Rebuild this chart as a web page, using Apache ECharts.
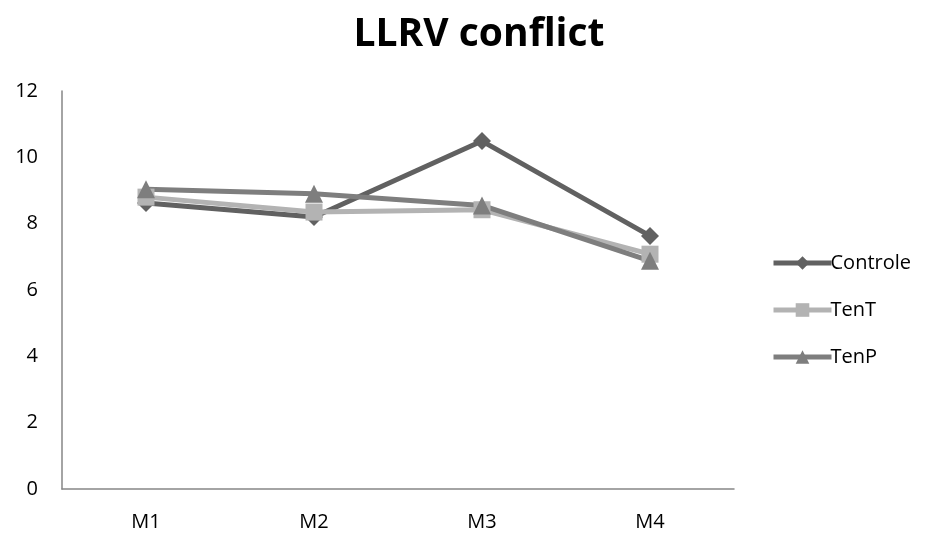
<!DOCTYPE html>
<html><head><meta charset="utf-8">
<script src="https://cdn.jsdelivr.net/npm/echarts@6/dist/echarts.min.js"></script>
<style>html,body{margin:0;padding:0;background:#fff}#c{width:930px;height:538px}</style>
</head><body><div id="c"></div>
<script>
const categories = ['M1','M2','M3','M4'];
const controle = [8.62, 8.2, 10.49, 7.63];
const tenT = [8.8, 8.35, 8.42, 7.08];
const tenP = [9.04, 8.9, 8.55, 6.88];
const yTicks = [0,2,4,6,8,10,12];
const font = 'Open Sans';
const chart = echarts.init(document.getElementById('c'));
function s(name, data, color, symbol, size){
  return {name, type:'line', data, symbol, symbolSize:size, showSymbol:true,
    lineStyle:{color, width:5}, itemStyle:{color}, emphasis:{disabled:true}, animation:false};
}
chart.setOption({
  animation:false,
  title:{text:'LLRV conflict', left:474, top:10, textAlign:'center',
    textStyle:{fontFamily:font, fontSize:39, fontWeight:'bold', color:'#000'}},
  grid:{left:62, right:196, top:91, bottom:49, containLabel:false},
  legend:{orient:'vertical', left:766, top:248, itemGap:27, itemWidth:58, itemHeight:17,
    lineStyle:{width:5},
    textStyle:{fontFamily:font, fontSize:20, color:'#000', padding:[0,0,0,-6]},
    data:['Controle','TenT','TenP']},
  xAxis:{type:'category', data:categories, boundaryGap:true,
    axisLine:{lineStyle:{color:'#868686', width:1.5}}, axisTick:{show:false},
    axisLabel:{fontFamily:font, fontSize:20, color:'#000', margin:23}},
  yAxis:{type:'value', min:0, max:12, interval:2,
    axisLine:{show:true, lineStyle:{color:'#868686', width:1.5}}, axisTick:{show:false},
    splitLine:{show:false},
    axisLabel:{fontFamily:font, fontSize:20, color:'#000', margin:24,
      formatter:v=>yTicks.includes(v)?String(v):''}},
  series:[
    s('Controle', controle, '#616161', 'diamond', 18),
    s('TenT', tenT, '#b3b3b3', 'rect', 17),
    s('TenP', tenP, '#7e7e7e', 'triangle', 18)
  ]
});
</script></body></html>
